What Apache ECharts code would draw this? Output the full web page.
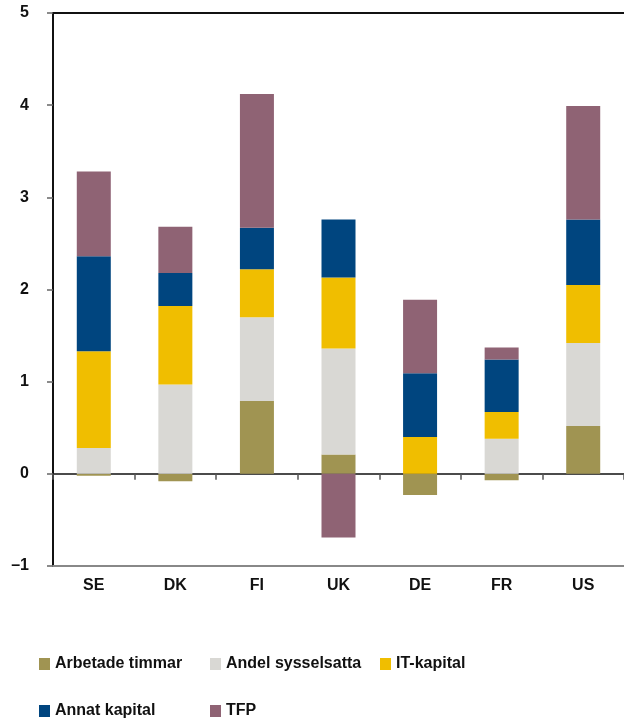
<!DOCTYPE html>
<html>
<head>
<meta charset="utf-8">
<script src="https://cdn.jsdelivr.net/npm/echarts@6/dist/echarts.min.js"></script>
<style>html,body{margin:0;padding:0;background:#fff;}#c{width:624px;height:721px;}</style>
</head>
<body>
<div id="c"></div>
<script>
const categories = ['SE', 'DK', 'FI', 'UK', 'DE', 'FR', 'US'];
const arbetadeTimmar = [-0.02, -0.08, 0.79, 0.21, -0.23, -0.07, 0.52];
const andelSysselsatta = [0.28, 0.97, 0.91, 1.15, 0.0, 0.38, 0.90];
const itKapital = [1.05, 0.85, 0.52, 0.77, 0.40, 0.29, 0.63];
const annatKapital = [1.03, 0.36, 0.45, 0.63, 0.69, 0.57, 0.71];
const tfp = [0.92, 0.50, 1.45, -0.69, 0.80, 0.13, 1.23];
const yTicks = [-1, 0, 1, 2, 3, 4, 5];

const FONT = "'Liberation Sans', Arial, sans-serif";
const names = ['Arbetade timmar', 'Andel sysselsatta', 'IT-kapital', 'Annat kapital', 'TFP'];
const colors = ['#A09452', '#D9D8D4', '#F0BE00', '#00457F', '#8F6374'];
const datas = [arbetadeTimmar, andelSysselsatta, itKapital, annatKapital, tfp];
const legendPos = [[39, 656], [210, 656], [380, 656], [39, 703], [210, 703]];

const chart = echarts.init(document.getElementById('c'));
chart.setOption({
  animation: false,
  color: colors,
  legend: names.map((n, i) => ({
    left: legendPos[i][0], top: legendPos[i][1], padding: 0,
    itemWidth: 11, itemHeight: 12, itemGap: 0, icon: 'rect', selectedMode: false,
    textStyle: { fontFamily: FONT, fontWeight: 'bold', fontSize: 16, color: '#111', padding: [0, 0, 0, 0] },
    data: [n]
  })),
  grid: { left: 53, right: 0, top: 13, bottom: 155, containLabel: false },
  xAxis: [
    {
      type: 'category', data: categories, position: 'bottom',
      axisLine: { onZero: false, lineStyle: { color: '#888', width: 2 } },
      axisTick: { show: false },
      axisLabel: { margin: 12, fontFamily: FONT, fontWeight: 'bold', fontSize: 16, color: '#111' }
    },
    {
      type: 'category', data: categories, position: 'bottom',
      axisLine: { onZero: true, lineStyle: { color: '#111', width: 1.5 } },
      axisTick: { show: true, length: 6, lineStyle: { color: '#555', width: 1.5 } },
      axisLabel: { show: false }
    },
    {
      type: 'category', data: categories, position: 'top',
      axisLine: { lineStyle: { color: '#111', width: 2 } },
      axisTick: { show: false }, axisLabel: { show: false }
    }
  ],
  yAxis: {
    type: 'value', min: yTicks[0], max: yTicks[yTicks.length - 1], interval: 1,
    axisLine: { show: true, lineStyle: { color: '#111', width: 2 } },
    axisTick: { show: true, length: 6, lineStyle: { color: '#666', width: 1.5 } },
    splitLine: { show: false },
    axisLabel: {
      margin: 24, fontFamily: FONT, fontWeight: 'bold', fontSize: 16, color: '#111',
      formatter: v => String(v).replace('-', '\u2013')
    }
  },
  series: names.map((n, i) => ({
    name: n, type: 'bar', stack: 'tot', xAxisIndex: 0, barWidth: 34,
    itemStyle: { color: colors[i] },
    data: datas[i]
  }))
});
</script>
</body>
</html>
